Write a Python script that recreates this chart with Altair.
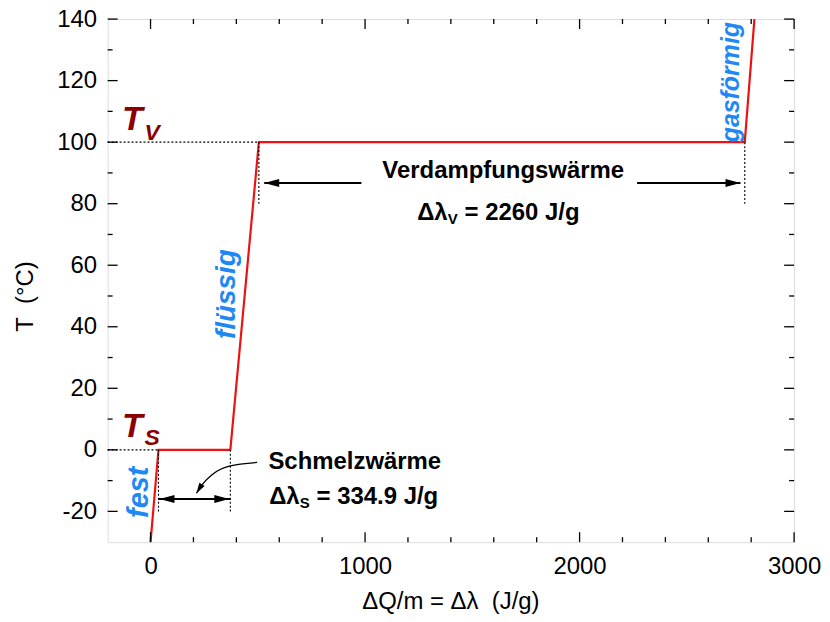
import altair as alt
import pandas as pd

# ---- data ----
heat = [0, 37, 372, 505, 2770, 2815]          # ΔQ/m (J/g)
temp = [-30, 0, 0, 100, 100, 140]              # T (°C)

x_major = [0, 1000, 2000, 3000]
x_minor = [200, 400, 600, 800, 1200, 1400, 1600, 1800, 2200, 2400, 2600, 2800]
y_major = [-20, 0, 20, 40, 60, 80, 100, 120, 140]
y_minor = [-10, 10, 30, 50, 70, 90, 110, 130]

# dotted guide segments: x, y, x2, y2
dot_x = [-200, -200, 505, 2770, 37, 372]
dot_y = [100, 0, 100, 100, 0, 0]
dot_x2 = [505, 37, 505, 2770, 37, 372]
dot_y2 = [100, 0, 80, 80, -20, -20]

# arrow shafts
arr_x = [37, 530, 2268]
arr_x2 = [372, 983, 2750]
arr_y = [-16, 86.7, 86.7]

# big arrow heads (tip position, direction)
head_x = [42, 367, 530, 2750]
head_y = [-16, -16, 86.7, 86.7]
head_dir = [270, 90, 270, 90]

# curved pointer from "Schmelzwärme" to the arrow
curve_x = [497, 367, 288, 242, 214]
curve_y = [-4.1, -5.3, -8.0, -11.2, -14.1]
curve_tip_x = [214]
curve_tip_y = [-14.1]
curve_tip_dir = [212]

# heading texts
head_txt = ["Verdampfungswärme", "Schmelzwärme"]
head_txt_x = [1644, 952]
head_txt_y = [88.5, -6.2]

# formula texts
f_x = [1385, 695]
f_y = [74.6, -17.7]
f_main = ["Δλ", "Δλ"]
f_sub = ["V", "S"]
f_rest = ["= 2260 J/g", "= 334.9 J/g"]

# temperature marks
t_x = [-37, -37]
t_y = [103.9, 4.2]
t_sub = ["V", "S"]
t_sub_y = [100.6, 1.6]

# phase labels
ph_txt = ["fest", "flüssig", "gasförmig"]
ph_x = [-14, 395, 2745]
ph_y = [-13.8, 50.6, 119.5]

# ---- chart ----
W, H = 689, 525
FONT = "Liberation Sans"
RED = "#ee1111"
DRED = "#8b0000"
BLUE = "#1f88f5"
X_TITLE = "ΔQ/m = Δλ\u00a0\u00a0(J/g)"
Y_TITLE = "T\u00a0\u00a0(°C)"

xs = alt.Scale(domain=[-200, 3000], nice=False, zero=False)
ys = alt.Scale(domain=[-30, 140], nice=False, zero=False)

x_axis = alt.Axis(values=x_major, ticks=False, domain=False, grid=False,
                  labelExpr="'' + datum.value",
                  labelFontSize=24, labelFont=FONT, labelColor="black",
                  labelPadding=12, labelFlush=False, labelOverlap=False,
                  title=X_TITLE, titleFont=FONT,
                  titleFontSize=24, titleFontWeight="normal", titleColor="black",
                  titleX=344, titleY=67, titleBaseline="alphabetic",
                  titleAlign="center")
y_axis = alt.Axis(values=y_major, ticks=False, domain=False, grid=False,
                  labelExpr="'' + datum.value",
                  labelFontSize=24, labelFont=FONT, labelColor="black",
                  labelPadding=11, labelFlush=False, labelOverlap=False,
                  labelBaseline="middle",
                  title=Y_TITLE, titleFont=FONT, titleFontSize=24,
                  titleFontWeight="normal", titleColor="black",
                  titleAngle=270, titleX=-75, titleY=278,
                  titleBaseline="alphabetic", titleAlign="center")

def X(f):
    return alt.X(f, type="quantitative", scale=xs, axis=x_axis, title=X_TITLE)

def Y(f):
    return alt.Y(f, type="quantitative", scale=ys, axis=y_axis, title=Y_TITLE)

line_df = pd.DataFrame({"heat": heat, "temp": temp, "o": list(range(len(heat)))})
main = alt.Chart(line_df).mark_line(color=RED, strokeWidth=2.2, clip=True).encode(
    x=X("heat"), y=Y("temp"), order="o:Q")

layers = []

# inward ticks on all four sides
def xticks(vals, length):
    d = pd.DataFrame({"v": vals})
    b = alt.Chart(d).mark_rule(color="black", strokeWidth=1.3).encode(
        x=X("v"), y=alt.value(H), y2=alt.value(H - length))
    t = alt.Chart(d).mark_rule(color="black", strokeWidth=1.3).encode(
        x=X("v"), y=alt.value(0), y2=alt.value(length))
    return [b, t]

def yticks(vals, length):
    d = pd.DataFrame({"v": vals})
    l = alt.Chart(d).mark_rule(color="black", strokeWidth=1.3).encode(
        y=Y("v"), x=alt.value(0), x2=alt.value(length))
    r = alt.Chart(d).mark_rule(color="black", strokeWidth=1.3).encode(
        y=Y("v"), x=alt.value(W), x2=alt.value(W - length))
    return [l, r]

layers += xticks(x_major, 10) + xticks(x_minor, 5) + yticks(y_major, 10) + yticks(y_minor, 5)

dot_df = pd.DataFrame({"x": dot_x, "y": dot_y, "x2": dot_x2, "y2": dot_y2})
layers.append(alt.Chart(dot_df).mark_rule(color="black", strokeWidth=1.1, strokeDash=[2, 2]).encode(
    x=X("x"), y=Y("y"), x2="x2", y2="y2"))

arr_df = pd.DataFrame({"x": arr_x, "x2": arr_x2, "y": arr_y})
layers.append(alt.Chart(arr_df).mark_rule(color="black", strokeWidth=2).encode(
    x=X("x"), x2="x2", y=Y("y")))

HEAD = "M0,0 L0.53,2 L-0.53,2 Z"
head_df = pd.DataFrame({"x": head_x, "y": head_y, "a": head_dir})
layers.append(alt.Chart(head_df).mark_point(shape=HEAD, filled=True, color="black",
                                            size=225, opacity=1, strokeWidth=0).encode(
    x=X("x"), y=Y("y"), angle=alt.Angle("a:Q", scale=None)))

curve_df = pd.DataFrame({"x": curve_x, "y": curve_y, "o": list(range(len(curve_x)))})
layers.append(alt.Chart(curve_df).mark_line(color="black", strokeWidth=1.3, interpolate="monotone").encode(
    x=X("x"), y=Y("y"), order="o:Q"))

ctip_df = pd.DataFrame({"x": curve_tip_x, "y": curve_tip_y, "a": curve_tip_dir})
layers.append(alt.Chart(ctip_df).mark_point(shape="M0,0 L0.6,2 L-0.6,2 Z", filled=True, color="black",
                                            size=110, opacity=1, strokeWidth=0).encode(
    x=X("x"), y=Y("y"), angle=alt.Angle("a:Q", scale=None)))

ht_df = pd.DataFrame({"t": head_txt, "x": head_txt_x, "y": head_txt_y})
layers.append(alt.Chart(ht_df).mark_text(font=FONT, fontSize=24, fontWeight="bold", color="black",
                                         align="center", baseline="alphabetic").encode(
    x=X("x"), y=Y("y"), text="t:N"))

f_df = pd.DataFrame({"x": f_x, "y": f_y, "m": f_main, "s": f_sub, "r": f_rest})
layers.append(alt.Chart(f_df).mark_text(font=FONT, fontSize=24, fontWeight="bold", color="black",
                                        align="right", baseline="alphabetic").encode(
    x=X("x"), y=Y("y"), text="m:N"))
layers.append(alt.Chart(f_df).mark_text(font=FONT, fontSize=15, fontWeight="bold", color="black",
                                        align="left", baseline="alphabetic", dx=0, dy=4).encode(
    x=X("x"), y=Y("y"), text="s:N"))
layers.append(alt.Chart(f_df).mark_text(font=FONT, fontSize=24, fontWeight="bold", color="black",
                                        align="left", baseline="alphabetic", dx=17).encode(
    x=X("x"), y=Y("y"), text="r:N"))

t_df = pd.DataFrame({"x": t_x, "y": t_y, "sy": t_sub_y, "s": t_sub, "T": ["T", "T"]})
layers.append(alt.Chart(t_df).mark_text(font=FONT, fontSize=34, fontWeight="bold", fontStyle="italic",
                                        color=DRED, align="right", baseline="alphabetic").encode(
    x=X("x"), y=Y("y"), text="T:N"))
layers.append(alt.Chart(t_df).mark_text(font=FONT, fontSize=23, fontWeight="bold", fontStyle="italic",
                                        color=DRED, align="left", baseline="alphabetic", dx=2).encode(
    x=X("x"), y=Y("sy"), text="s:N"))

ph_df = pd.DataFrame({"t": ph_txt, "x": ph_x, "y": ph_y, "fs": [29, 28, 25]})
layers.append(alt.Chart(ph_df).mark_text(font=FONT, fontWeight="bold", fontStyle="italic",
                                         color=BLUE, align="center", baseline="alphabetic",
                                         angle=270).encode(
    x=X("x"), y=Y("y"), text="t:N", size=alt.Size("fs:Q", scale=None, legend=None)))

chart = alt.layer(main, *layers).properties(
    width=W, height=H,
    autosize=alt.AutoSizeParams(type="none"),
    padding={"left": 100, "top": 10, "right": 28, "bottom": 71},
).configure_view(stroke="black", strokeWidth=1.6).configure(background="white")

chart.save("out.html", embed_options={"renderer": "svg", "actions": False})
